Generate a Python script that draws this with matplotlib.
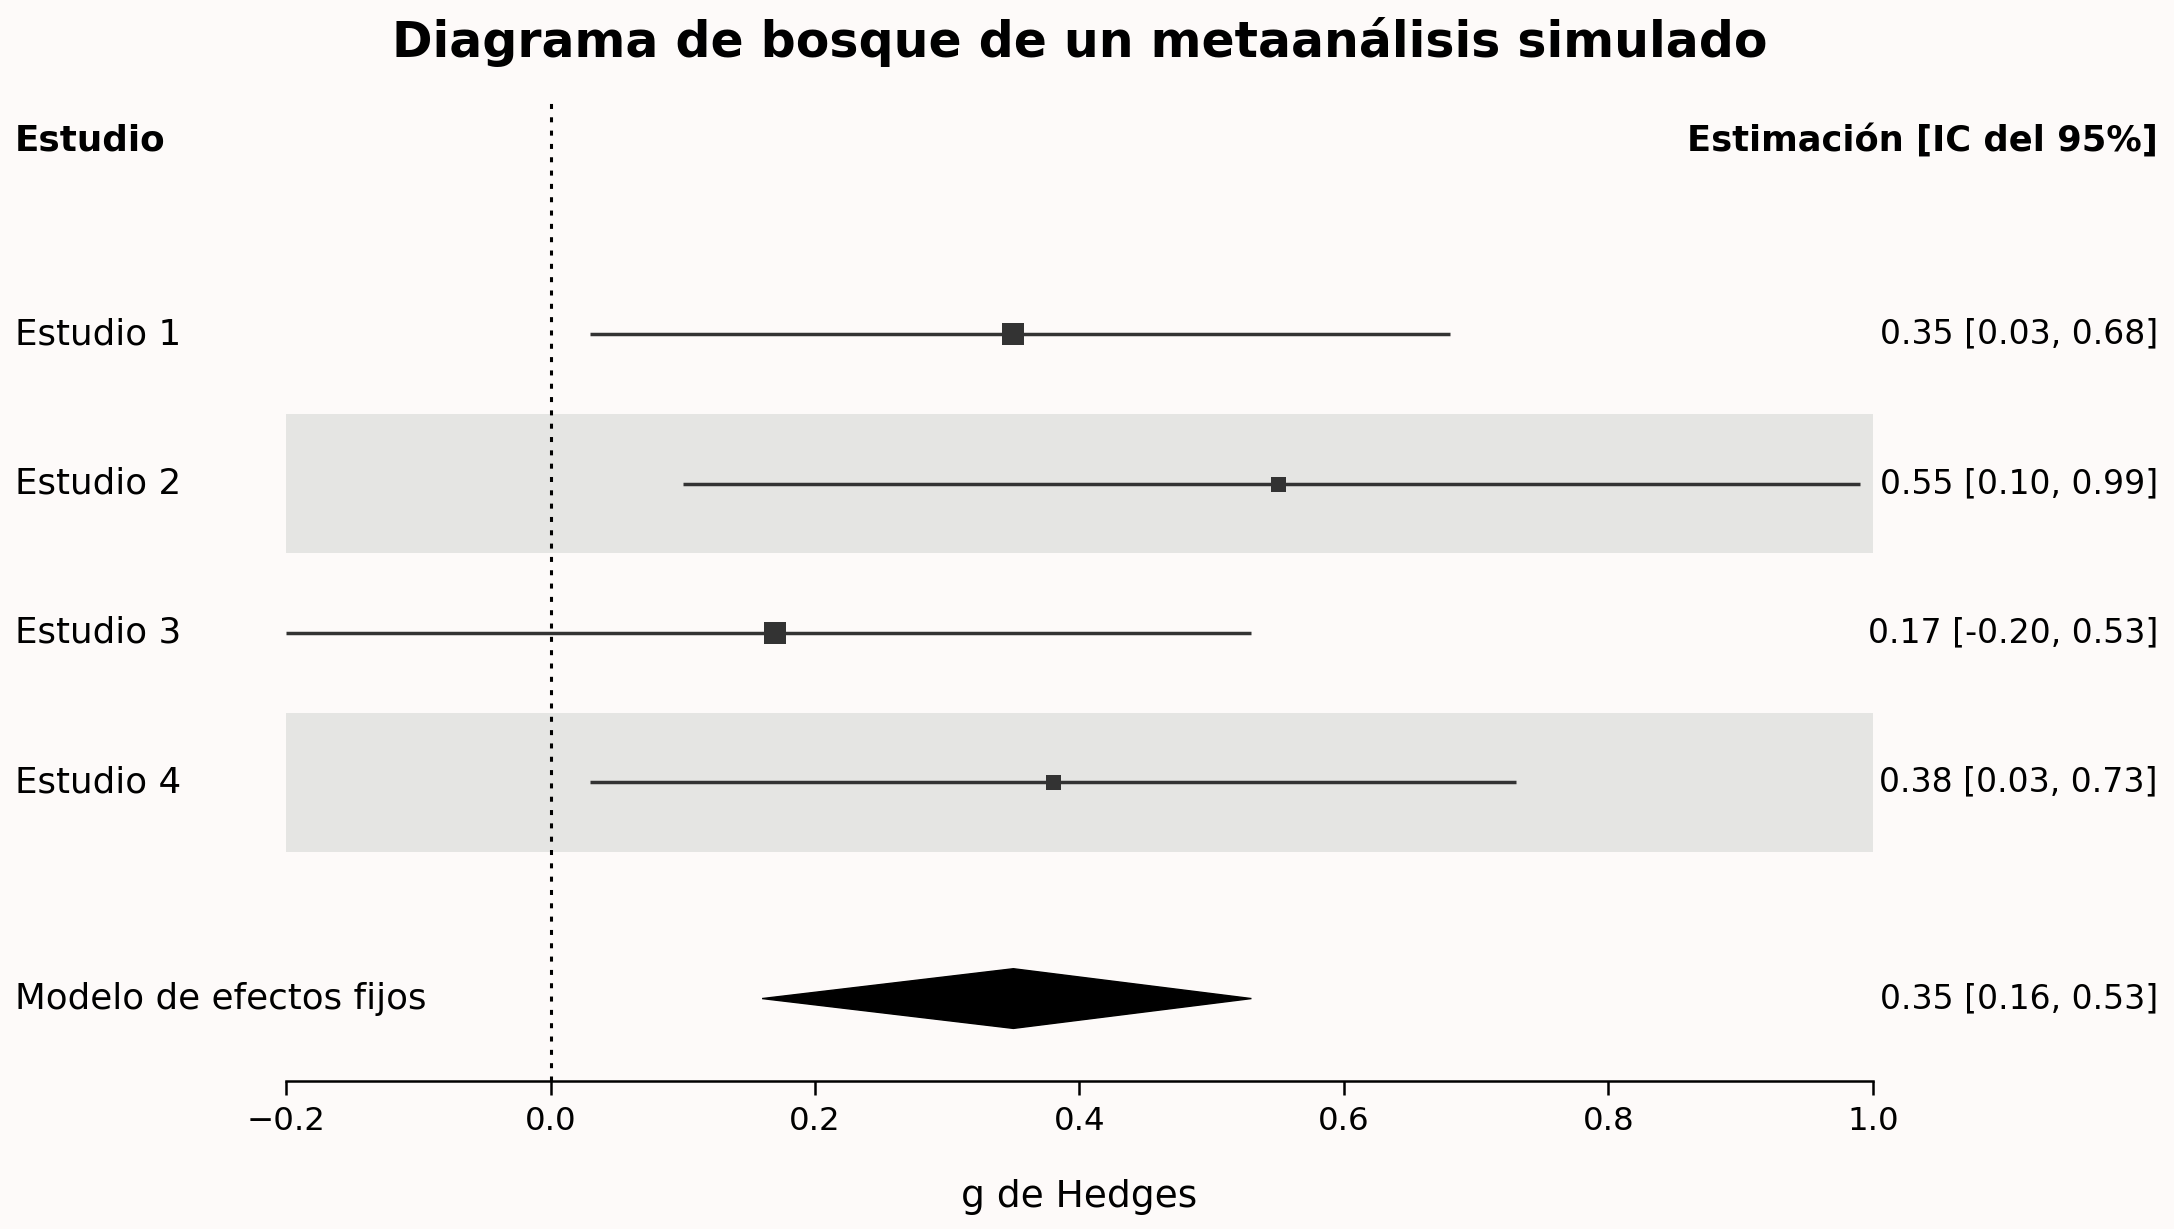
import matplotlib
matplotlib.use("Agg")
import matplotlib.pyplot as plt
import matplotlib.transforms as mtransforms
from matplotlib.patches import Polygon

# ---- data ----
studies = ["Estudio 1", "Estudio 2", "Estudio 3", "Estudio 4"]
estimates = [0.35, 0.55, 0.17, 0.38]
ci_low = [0.03, 0.10, -0.20, 0.03]
ci_high = [0.68, 0.99, 0.53, 0.73]
marker_sizes = [7.6, 5.4, 7.6, 5.4]
pooled_label = "Modelo de efectos fijos"
pooled_est = 0.35
pooled_low = 0.16
pooled_high = 0.53
xticks = [-0.2, 0.0, 0.2, 0.4, 0.6, 0.8, 1.0]

BG = "#fdfaf9"
BAND = "#e5e5e3"
INK = "#333333"

fig = plt.figure(figsize=(10.87, 6.145), dpi=200, facecolor=BG)
ax = fig.add_axes([0.1316, 0.1207, 0.8615 - 0.1316, 0.9162 - 0.1207])
ax.set_facecolor(BG)

ys = list(range(len(studies)))
pooled_y = 4.45

# alternating bands
for i, y in enumerate(ys):
    if i % 2 == 1:
        ax.axhspan(y - 0.465, y + 0.465, color=BAND, zorder=0, lw=0)

# reference line
ax.axvline(0, color="black", lw=1.1, linestyle=(0, (1.64, 2.72)), zorder=1)

# CI lines and markers
for y, e, lo, hi, ms in zip(ys, estimates, ci_low, ci_high, marker_sizes):
    ax.plot([lo, hi], [y, y], color=INK, lw=1.25, solid_capstyle="butt", zorder=2)
    ax.plot([e], [y], marker="s", ms=ms, color=INK, mew=0, zorder=3)

# pooled diamond
diamond = Polygon([(pooled_low, pooled_y), (pooled_est, pooled_y - 0.2),
                   (pooled_high, pooled_y), (pooled_est, pooled_y + 0.2)],
                  closed=True, facecolor="black", edgecolor="black", lw=0.5, zorder=3)
ax.add_patch(diamond)

ax.set_xlim(-0.2, 1.0)
ax.set_ylim(5.0, -1.55)
ax.set_xticks(xticks)
ax.set_yticks([])
for s in ["left", "right", "top"]:
    ax.spines[s].set_visible(False)
ax.spines["bottom"].set_linewidth(0.9)
ax.tick_params(axis="x", length=5, width=0.9, pad=4.2, labelsize=11.7)

# texts
trans = mtransforms.blended_transform_factory(fig.transFigure, ax.transData)
xl, xr = 0.0070, 0.9926
fs_left = 12.85
fs_right = 11.95
ax.text(xl, -1.3, "Estudio", transform=trans, ha="left", va="center",
        fontsize=12.9, fontweight="bold")
ax.text(xr, -1.3, "Estimación [IC del 95%]", transform=trans, ha="right", va="center",
        fontsize=12.7, fontweight="bold")
for y, name, e, lo, hi in zip(ys, studies, estimates, ci_low, ci_high):
    ax.text(xl, y, name, transform=trans, ha="left", va="center", fontsize=fs_left)
    ax.text(xr, y, f"{e:.2f} [{lo:.2f}, {hi:.2f}]", transform=trans, ha="right",
            va="center", fontsize=fs_right)
ax.text(xl, pooled_y, pooled_label, transform=trans, ha="left", va="center", fontsize=fs_left)
ax.text(xr, pooled_y, f"{pooled_est:.2f} [{pooled_low:.2f}, {pooled_high:.2f}]",
        transform=trans, ha="right", va="center", fontsize=fs_right)

xc = (0.1316 + 0.8615) / 2
fig.text(xc, 1 - 57 / 1229, "Diagrama de bosque de un metaanálisis simulado",
         ha="center", va="baseline", fontsize=17.6, fontweight="bold")
fig.text(xc, 22 / 1229, "g de Hedges", ha="center", va="baseline", fontsize=13.5)

fig.savefig("out.png", dpi=200, facecolor=BG)
